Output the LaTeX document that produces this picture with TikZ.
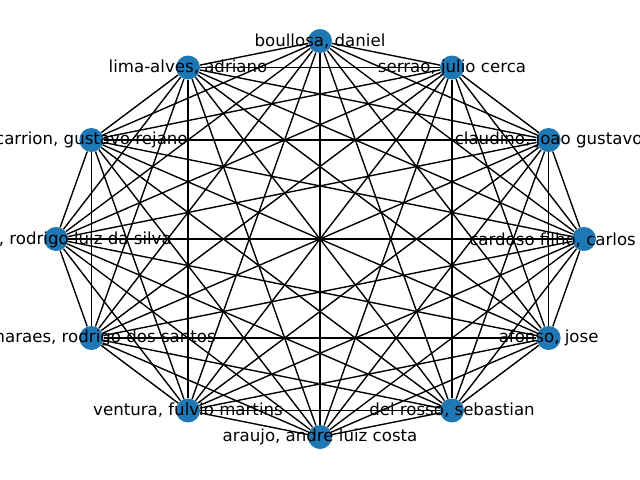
\documentclass[tikz,border=0pt]{standalone}
\usepackage{fontspec}
\setmainfont{DejaVu Sans}
\usepackage{tikz}
\definecolor{nodeblue}{HTML}{1F77B4}

\begin{document}
\begin{tikzpicture}[x=0.01in,y=-0.01in,
    vert/.style={circle,fill=nodeblue,inner sep=0pt,minimum size=0.24in},
    lbl/.style={inner sep=0pt,font=\fontsize{12}{14}\selectfont}]
  \useasboundingbox (0,0) rectangle (640,480);
  % vertices on the ellipse
  \foreach \i in {0,...,11}
    \node[vert] (v\i) at ({320+264*cos(30*\i)},{239-198*sin(30*\i)}) {};
  % complete graph
  \foreach \i in {0,...,10} {
    \pgfmathtruncatemacro\k{\i+1}
    \foreach \j in {\k,...,11}
      \draw[line width=1pt] (v\i) -- (v\j);
  }
  \node[lbl,anchor=west] (l0) at (469,240) {cardoso filho, carlos};
  \node[lbl] (l1) at (v1) {claudino, joao gustavo};
  \node[lbl] (l2) at (v2) {serrao, julio cerca};
  \node[lbl] (l3) at (v3) {boullosa, daniel};
  \node[lbl] (l4) at (v4) {lima-alves, adriano};
  \node[lbl] (l5) at (v5) {carrion, gustavo rejano};
  \node[lbl,anchor=east] (l6) at (172,240) {, rodrigo luiz da silva};
  \node[lbl,anchor=east] (l7) at (216,338) {maraes, rodrigo dos santos};
  \node[lbl] (l8) at (v8) {ventura, fulvio martins};
  \node[lbl] (l9) at (v9) {araujo, andre luiz costa};
  \node[lbl] (l10) at (v10) {del rosso, sebastian};
  \node[lbl] (l11) at (v11) {afonso, jose};
\end{tikzpicture}
\end{document}
